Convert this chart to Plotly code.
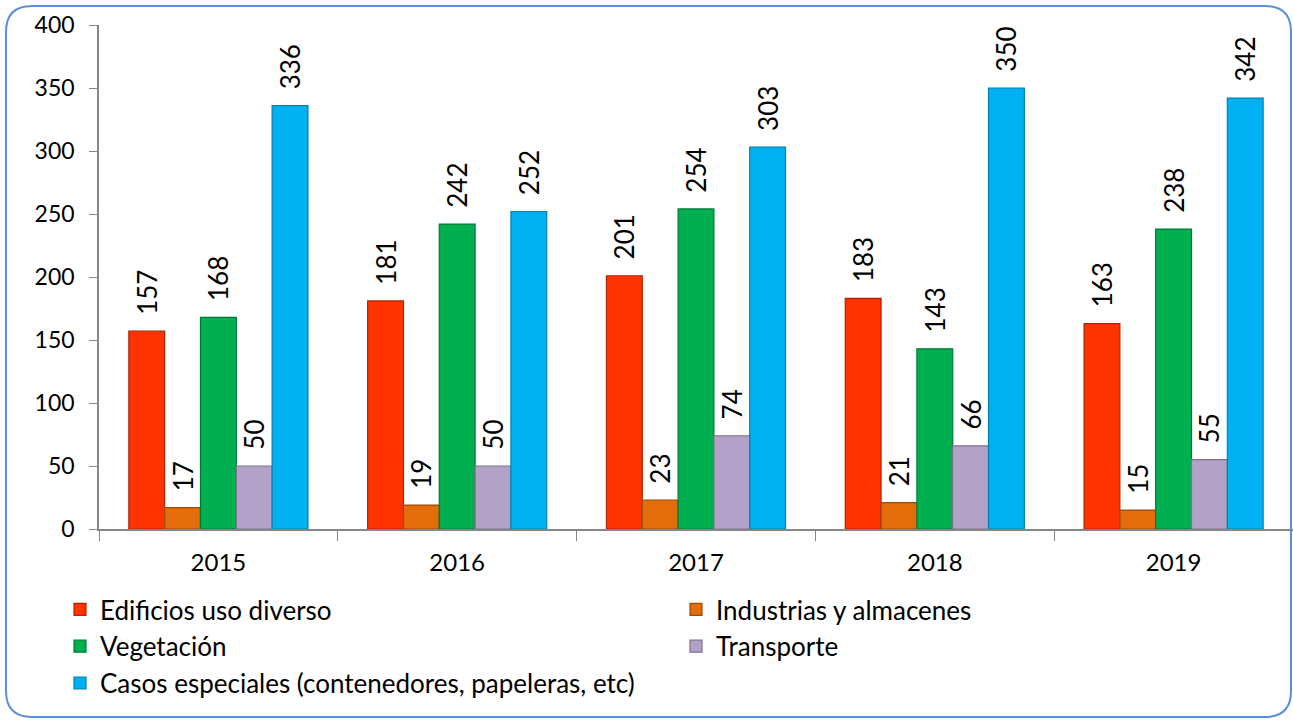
import plotly.graph_objects as go

years = ["2015", "2016", "2017", "2018", "2019"]
edificios = [157, 181, 201, 183, 163]
industrias = [17, 19, 23, 21, 15]
vegetacion = [168, 242, 254, 143, 238]
transporte = [50, 50, 74, 66, 55]
casos = [336, 252, 303, 350, 342]

# name, values, fill, edge, legend column
series = [
    ("Edificios uso diverso", edificios, "#ff3300", "#b02400", "legend"),
    ("Industrias y almacenes", industrias, "#e46c0a", "#9c4a06", "legend2"),
    ("Vegetación", vegetacion, "#00b050", "#007a37", "legend"),
    ("Transporte", transporte, "#b3a2c7", "#7f7194", "legend2"),
    ("Casos especiales (contenedores, papeleras, etc)", casos, "#00b0f0", "#0082b3", "legend"),
]

FONT = "Lato, Carlito, 'Open Sans', sans-serif"
W, H = 1293, 721
L, R, T, B = 99, 0, 25, 192
PW, PH = W - L - R, H - T - B


def px(x):
    return (x - L) / PW


def py(y):
    return (H - B - y) / PH


fig = go.Figure()
for i, (name, vals, col, dark, lg) in enumerate(series):
    fig.add_trace(go.Bar(
        x=years, y=vals, name=name, legendgroup=f"g{i}",
        marker=dict(color=col, line=dict(color=dark, width=1.2)),
        text=vals, texttemplate="\u00a0\u00a0%{y}",
        textposition="outside", textangle=-90, constraintext="none",
        textfont=dict(size=26, color="#000000", family=FONT),
        cliponaxis=False, legend=lg,
    ))

# rounded frame around the chart
x0, x1, y0, y1, r = 6, 1291, 6, 717, 26
path = (f"M {px(x0 + r)} {py(y0)} L {px(x1 - r)} {py(y0)} "
        f"Q {px(x1)} {py(y0)} {px(x1)} {py(y0 + r)} "
        f"L {px(x1)} {py(y1 - r)} Q {px(x1)} {py(y1)} {px(x1 - r)} {py(y1)} "
        f"L {px(x0 + r)} {py(y1)} Q {px(x0)} {py(y1)} {px(x0)} {py(y1 - r)} "
        f"L {px(x0)} {py(y0 + r)} Q {px(x0)} {py(y0)} {px(x0 + r)} {py(y0)} Z")

leg = dict(orientation="v", xanchor="left", yanchor="top", y=py(586),
           itemwidth=30, tracegroupgap=0,
           font=dict(size=26, color="#000000", family=FONT),
           bgcolor="rgba(0,0,0,0)", traceorder="grouped")

fig.update_layout(
    width=W, height=H,
    margin=dict(l=L, r=R, t=T, b=B, autoexpand=False),
    paper_bgcolor="white", plot_bgcolor="white",
    barmode="group", bargap=0.25, bargroupgap=0,
    font=dict(family=FONT, color="#000000"),
    shapes=[dict(type="path", path=path, xref="paper", yref="paper",
                 line=dict(color="#5b8fd6", width=2), layer="below")],
    legend=dict(leg, x=px(60)),
    legend2=dict(leg, x=px(676)),
    xaxis=dict(showline=True, linecolor="#868686", linewidth=1.5,
               ticks="outside", tickson="boundaries", ticklen=10,
               tickcolor="#868686", tickfont=dict(size=24),
               ticklabelstandoff=11, showgrid=False, zeroline=False),
    yaxis=dict(range=[0, 400], dtick=50, showline=True, linecolor="#868686",
               linewidth=1.5, ticks="outside", ticklen=8, tickcolor="#868686",
               tickfont=dict(size=23), ticklabelstandoff=10,
               showgrid=False, zeroline=False),
)

fig.write_html("out.html", config={"displayModeBar": False},
               post_script="document.body.style.margin='0';")
